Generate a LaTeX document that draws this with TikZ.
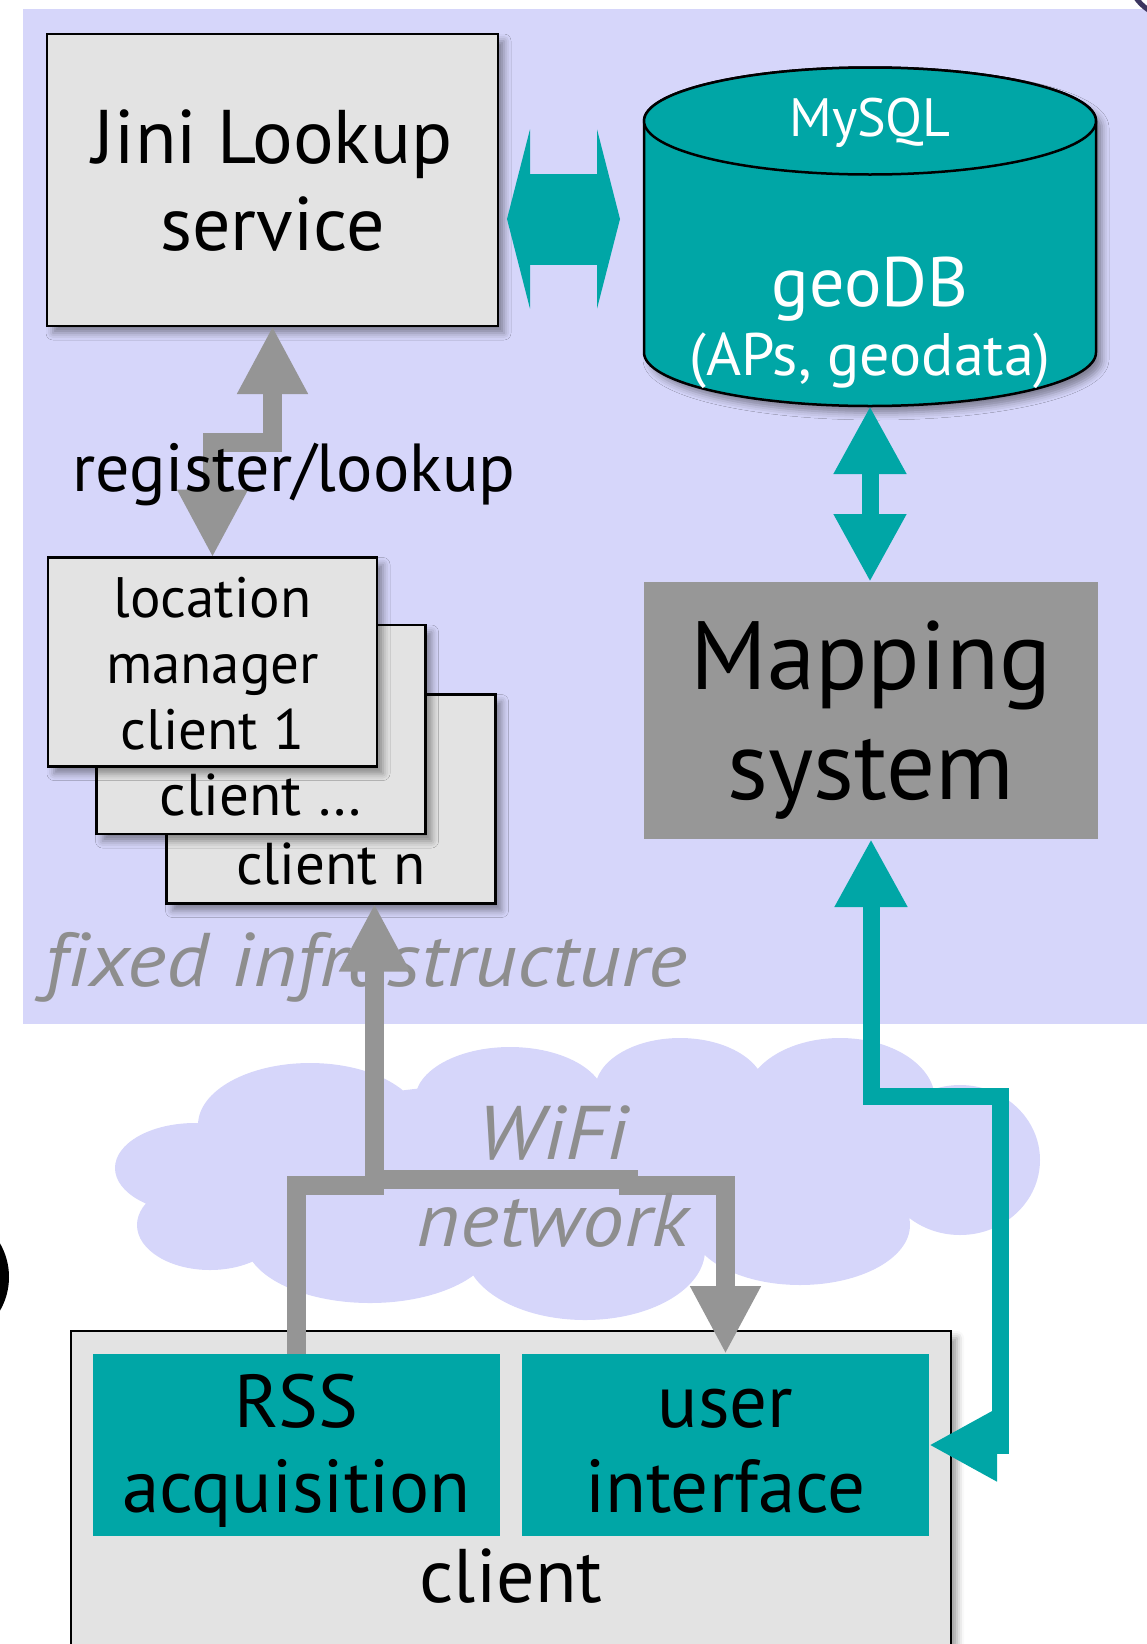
\documentclass[tikz,border=0pt]{standalone}
\usepackage{fontspec}
\setmainfont{PT Sans}
\newfontfamily\infrafont{PT Sans}[FakeStretch=1.1, Ligatures=NoCommon]
\usetikzlibrary{arrows.meta,shadows.blur}
\definecolor{lavender}{RGB}{214,214,250}
\definecolor{boxgray}{RGB}{227,227,227}
\definecolor{dbteal}{RGB}{0,166,166}
\definecolor{arrowgray}{RGB}{149,149,149}
\definecolor{mapgray}{RGB}{151,151,151}
\definecolor{infragray}{RGB}{142,142,142}
\definecolor{edgeblue}{RGB}{60,54,96}
\tikzstyle{shadowed} = [blur shadow={shadow xshift=6pt,shadow yshift=-7pt,shadow blur radius=7pt}]
\tikzstyle{box} = [draw, line width=2.5pt, fill=boxgray, inner sep=0pt, outer sep=0pt, align=center, shadowed]
\tikzstyle{stack} = [box, minimum width=329pt, minimum height=209pt, font=\fontsize{59}{66}\selectfont, text height=171pt, text depth=0pt]
\tikzstyle{tealbox} = [fill=dbteal, inner sep=0pt, outer sep=0pt, minimum width=407pt, minimum height=182pt, align=center, font=\fontsize{75}{85}\selectfont, text height=135pt, text depth=0pt]
\tikzstyle{garrow} = [draw=arrowgray, line width=19pt, >={Triangle[length=68pt,width=66pt]}]
\tikzstyle{tarrow} = [draw=dbteal, line width=17pt, >={Triangle[length=68pt,width=68pt]}]
\tikzstyle{italic} = [infragray, inner sep=0pt, font=\fontsize{76}{87}\infrafont\itshape]

\begin{document}
\begin{tikzpicture}[x=1pt,y=1pt]
  \useasboundingbox (0,0) rectangle (1147,-1644);
  % backdrop and cloud
  \fill[lavender] (23,-9) rectangle (1147,-1024);
  \fill[lavender] (310,-1125) ellipse [x radius=112pt, y radius=62pt]
    (510,-1100) ellipse [x radius=95pt, y radius=53pt]
    (680,-1090) ellipse [x radius=85pt, y radius=52pt]
    (840,-1100) ellipse [x radius=95pt, y radius=62pt]
    (960,-1160) ellipse [x radius=80pt, y radius=75pt]
    (800,-1225) ellipse [x radius=110pt, y radius=60pt]
    (585,-1250) ellipse [x radius=120pt, y radius=70pt]
    (370,-1240) ellipse [x radius=125pt, y radius=63pt]
    (210,-1225) ellipse [x radius=73pt, y radius=45pt]
    (195,-1168) ellipse [x radius=80pt, y radius=45pt]
    (580,-1170) ellipse [x radius=380pt, y radius=90pt];
  \fill[black] (-58,-1277) circle [radius=67pt];
  \draw[edgeblue, line width=5pt] (1175,30) circle [radius=48pt];

  \node[italic, anchor=base west] at (44,-986) (infra) {fixed infrastructure};

  \node[box, minimum width=451pt, minimum height=292pt, font=\fontsize{76}{87}\selectfont, text depth=0pt] at (272.5,-180) (jini) {Jini Lookup\\service};

  % geoDB cylinder
  \draw[line width=2.5pt, fill=dbteal, shadowed] (644,-121) -- (644,-352.5)
    arc[start angle=180, end angle=360, x radius=226pt, y radius=53.5pt] -- (1096,-121)
    arc[start angle=0, end angle=180, x radius=226pt, y radius=53.5pt] -- cycle;
  \draw[line width=2.5pt, fill=dbteal] (870,-121) ellipse [x radius=226pt, y radius=53.5pt];
  \node[inner sep=0pt, outer sep=0pt, minimum width=452pt, minimum height=338pt] at (870,-237) (db) {};
  \node[white, anchor=base, font=\fontsize{54}{60}\selectfont] at (870,-136) (mysql) {MySQL};
  \node[white, anchor=base, font=\fontsize{70}{70}\selectfont] at (870,-306) (geodb) {geoDB};
  \node[white, anchor=base, font=\fontsize{60}{60}\selectfont] at (870,-375) (geodata) {(APs, geodata)};

  \node[fill=mapgray, inner sep=0pt, outer sep=0pt, minimum width=454pt, minimum height=257pt, align=center, font=\fontsize{97}{110}\selectfont, text depth=0pt] at (871,-710.5) (map) {Mapping\\system};

  % location manager clients
  \node[stack] at (331,-799) (cn) {client n};
  \node[stack] at (261,-729.5) (cdots) {client …};
  \node[stack, font=\fontsize{57}{66}\selectfont, text height=174pt] at (212.5,-662) (lm1) {location\\manager\\client 1};

  \node[box, minimum width=880pt, minimum height=369pt, font=\fontsize{76}{80}\selectfont, text height=173pt, text depth=0pt] at (511,-1515.5) (client) {client};
  \node[tealbox] at (296.5,-1445) (rss) {RSS\\acquisition};
  \node[tealbox] at (725.5,-1445) (ui) {user\\interface};

  \coordinate (split) at (374.5,-1185);
  \coordinate (jog) at (628,-1185);
  \coordinate (turn) at (1000,-1096);

  \draw[garrow, <->] (jini.south) -- ++(0,-116) -| (lm1.north);
  \draw[dbteal, line width=91pt, {Triangle[length=23pt,width=179pt]}-{Triangle[length=23pt,width=179pt]}] ([shift={(9pt,-39pt)}]jini.east) -- ([shift={(-24pt,18pt)}]db.west);
  \draw[tarrow, <->] (db.south) -- (db.south |- map.north);
  \draw[garrow, ->] (rss.north) |- (split) -- ([xshift=43.5pt]cn.south);
  \draw[garrow, ->] ([yshift=5.5pt]split) -- ([yshift=5.5pt]jog) -- (jog) -| (ui.north);
  \draw[tarrow, <->] (map.south) |- (turn) |- (ui.east);

  \node[anchor=base, font=\fontsize{68}{70}\selectfont] at (294,-491) (reglabel) {register/lookup};
  \node[italic, align=center] at (553,-1177) (wifi) {WiFi\\network};
\end{tikzpicture}
\end{document}
